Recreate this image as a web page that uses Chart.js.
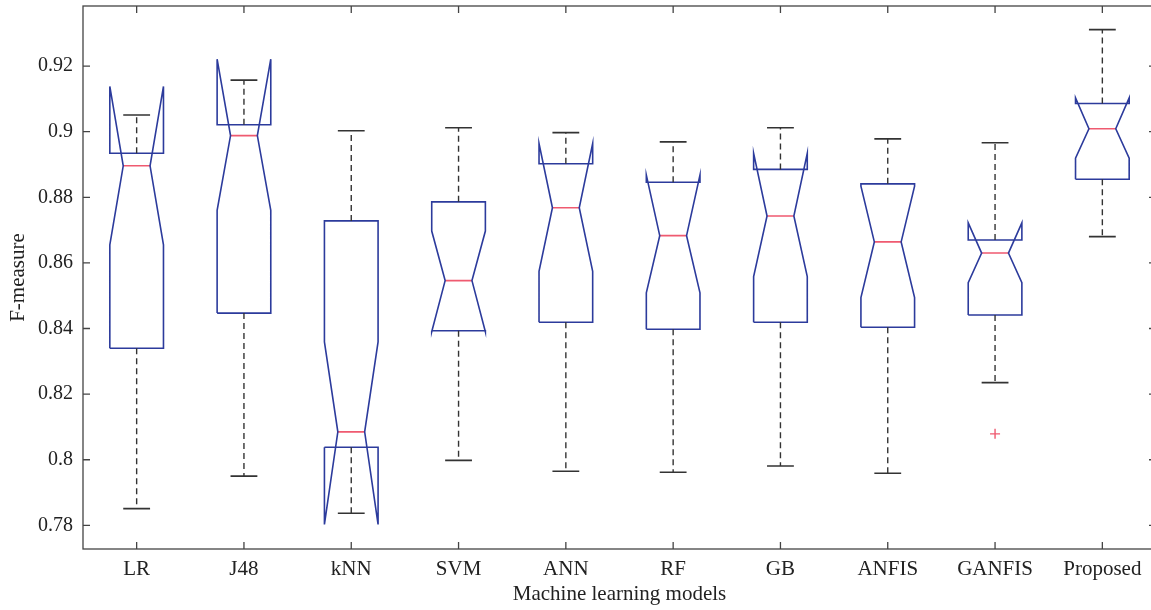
<!DOCTYPE html>
<html>
<head>
<meta charset="utf-8">
<script src="https://cdn.jsdelivr.net/npm/chart.js@4.4.1/dist/chart.umd.min.js"></script>
<style>
html, body { margin: 0; padding: 0; background: #fff; overflow: hidden; }
#wrap { width: 1151px; height: 610px; overflow: hidden; }
</style>
</head>
<body>
<div id="wrap"><canvas id="myChart" width="1157" height="610"></canvas></div>
<script>
// models on the x axis
let categories = ['LR', 'J48', 'kNN', 'SVM', 'ANN', 'RF', 'GB', 'ANFIS', 'GANFIS', 'Proposed'];
// box plot statistics
let lowerWhisker = [0.7851, 0.7950, 0.7837, 0.7998, 0.7965, 0.7962, 0.7981, 0.7959, 0.8235, 0.8680];
let q1           = [0.8340, 0.8447, 0.8038, 0.8393, 0.8419, 0.8398, 0.8419, 0.8404, 0.8441, 0.8855];
let median       = [0.8896, 0.8988, 0.8085, 0.8546, 0.8768, 0.8683, 0.8743, 0.8664, 0.8630, 0.9009];
let q3           = [0.8934, 0.9021, 0.8728, 0.8786, 0.8902, 0.8846, 0.8885, 0.8841, 0.8670, 0.9086];
let upperWhisker = [0.9051, 0.9157, 0.9003, 0.9012, 0.8997, 0.8969, 0.9012, 0.8978, 0.8966, 0.9311];
let notchLow     = [0.8655, 0.8760, 0.7803, 0.8390, 0.8574, 0.8509, 0.8558, 0.8494, 0.8540, 0.8919];
let notchHigh    = [0.9138, 0.9221, 0.8359, 0.8697, 0.8964, 0.8868, 0.8934, 0.8834, 0.8722, 0.9103];
// outliers
let outlierCategory = [8];
let outlierValue    = [0.8079];
// y tick labels
let yTicks = [0.78, 0.80, 0.82, 0.84, 0.86, 0.88, 0.90, 0.92];

let boxHalf = 0.25, notchHalf = 0.125, capHalf = 0.125;
let blue = '#2c3b9c', red = '#ef5a70', dark = '#333333', axisColor = '#444444';
let fontFamily = '"Liberation Serif", "Times New Roman", serif';

let outlinePts = [], medianPts = [], whiskerPts = [], capPts = [];
categories.forEach((c, i) => {
    let l = i - boxHalf, r = i + boxHalf;
    outlinePts.push(
        {x: l, y: q1[i]}, {x: l, y: notchLow[i]}, {x: i - notchHalf, y: median[i]},
        {x: l, y: notchHigh[i]}, {x: l, y: q3[i]}, {x: r, y: q3[i]},
        {x: r, y: notchHigh[i]}, {x: i + notchHalf, y: median[i]}, {x: r, y: notchLow[i]},
        {x: r, y: q1[i]}, {x: l, y: q1[i]}, {x: i, y: null});
    medianPts.push({x: i - notchHalf, y: median[i]}, {x: i + notchHalf, y: median[i]}, {x: i, y: null});
    whiskerPts.push({x: i, y: q3[i]}, {x: i, y: upperWhisker[i]}, {x: i, y: null},
                    {x: i, y: q1[i]}, {x: i, y: lowerWhisker[i]}, {x: i, y: null});
    capPts.push({x: i - capHalf, y: upperWhisker[i]}, {x: i + capHalf, y: upperWhisker[i]}, {x: i, y: null},
                {x: i - capHalf, y: lowerWhisker[i]}, {x: i + capHalf, y: lowerWhisker[i]}, {x: i, y: null});
});
let outlierPts = outlierCategory.map((c, k) => ({x: c, y: outlierValue[k]}));

// frame with inward ticks on all four sides
let framePlugin = {
    id: 'frame',
    afterDraw: (chart) => {
        let ctx = chart.ctx, a = chart.chartArea, sx = chart.scales.x, sy = chart.scales.y, t = 7;
        ctx.save();
        ctx.strokeStyle = axisColor;
        ctx.lineWidth = 1.3;
        ctx.strokeRect(a.left, a.top, a.right - a.left, a.bottom - a.top);
        ctx.beginPath();
        categories.forEach((c, i) => {
            let px = sx.getPixelForValue(i);
            ctx.moveTo(px, a.bottom); ctx.lineTo(px, a.bottom - t);
            ctx.moveTo(px, a.top); ctx.lineTo(px, a.top + t);
        });
        yTicks.forEach(v => {
            let py = sy.getPixelForValue(v);
            ctx.moveTo(a.left, py); ctx.lineTo(a.left + t, py);
            ctx.moveTo(a.right, py); ctx.lineTo(a.right - t, py);
        });
        ctx.stroke();
        ctx.restore();
    }
};

let lineSet = (data, color, width, dash) => ({
    data: data, showLine: true, borderColor: color, borderWidth: width, borderDash: dash || [],
    pointRadius: 0, pointHoverRadius: 0, spanGaps: false, tension: 0, borderJoinStyle: 'miter', fill: false
});

let ctx = document.getElementById('myChart').getContext('2d');
let chart = new Chart(ctx, {
    type: 'scatter',
    data: {
        datasets: [
            lineSet(whiskerPts, dark, 1.4, [6, 4]),
            lineSet(capPts, dark, 1.6),
            lineSet(outlinePts, blue, 1.6),
            lineSet(medianPts, red, 1.6),
            {
                data: outlierPts, showLine: false, pointStyle: 'cross', pointRadius: 5,
                borderColor: red, backgroundColor: red, pointBorderWidth: 1.4, pointHoverRadius: 5
            }
        ]
    },
    options: {
        responsive: false,
        animation: false,
        layout: { autoPadding: false, padding: { top: 6, right: 1, left: 0, bottom: 0 } },
        plugins: { legend: { display: false }, tooltip: { enabled: false } },
        scales: {
            x: {
                type: 'linear', min: -0.5, max: 9.5,
                grid: { display: false, drawTicks: false },
                border: { display: false },
                afterBuildTicks: (s) => { s.ticks = categories.map((c, i) => ({value: i})); },
                afterFit: (s) => { s.height = 61; s.paddingLeft = 0; s.paddingRight = 0; },
                ticks: {
                    autoSkip: false, maxRotation: 0, padding: 8, color: '#222',
                    font: { family: fontFamily, size: 21 },
                    callback: (v) => categories[v]
                },
                title: {
                    display: true, text: 'Machine learning models', color: '#222',
                    font: { family: fontFamily, size: 21 }, padding: { top: 0, bottom: 3 }
                }
            },
            y: {
                type: 'linear', min: 0.7728, max: 0.9383,
                grid: { display: false, drawTicks: false },
                border: { display: false },
                afterBuildTicks: (s) => { s.ticks = yTicks.map(v => ({value: v})); },
                afterFit: (s) => { s.width = 83; s.paddingTop = 0; s.paddingBottom = 0; },
                ticks: {
                    padding: 10, color: '#222',
                    font: { family: fontFamily, size: 20 },
                    callback: (v) => String(+v.toFixed(2))
                },
                title: {
                    display: true, text: 'F-measure', color: '#222',
                    font: { family: fontFamily, size: 21 }, padding: { top: 6, bottom: 0 }
                }
            }
        }
    },
    plugins: [framePlugin]
});
</script>
</body>
</html>
